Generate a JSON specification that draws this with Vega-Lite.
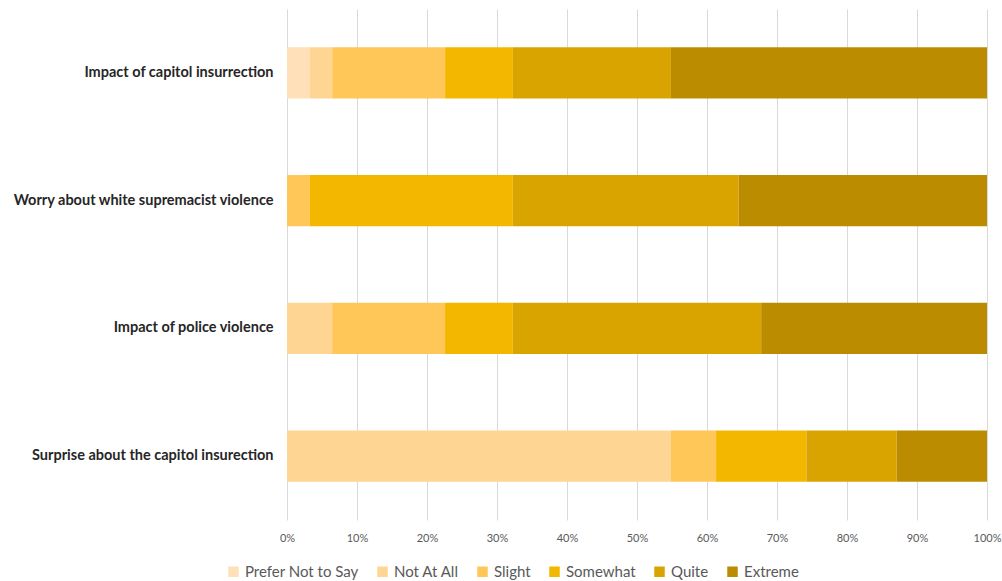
{
  "$schema": "https://vega.github.io/schema/vega-lite/v6.json",
  "width": 700,
  "height": 511,
  "autosize": {"type": "none"},
  "padding": {"left": 287, "top": 9, "right": 15, "bottom": 61},
  "background": "white",
  "config": {"view": {"stroke": null}, "font": "Lato"},
  "data": {"values": [
    {"q": "Impact of capitol insurrection", "r": "Prefer Not to Say", "o": 1, "pct": 3.23},
    {"q": "Impact of capitol insurrection", "r": "Not At All", "o": 2, "pct": 3.23},
    {"q": "Impact of capitol insurrection", "r": "Slight", "o": 3, "pct": 16.13},
    {"q": "Impact of capitol insurrection", "r": "Somewhat", "o": 4, "pct": 9.68},
    {"q": "Impact of capitol insurrection", "r": "Quite", "o": 5, "pct": 22.58},
    {"q": "Impact of capitol insurrection", "r": "Extreme", "o": 6, "pct": 45.16},
    {"q": "Worry about white supremacist violence", "r": "Slight", "o": 3, "pct": 3.23},
    {"q": "Worry about white supremacist violence", "r": "Somewhat", "o": 4, "pct": 29.03},
    {"q": "Worry about white supremacist violence", "r": "Quite", "o": 5, "pct": 32.26},
    {"q": "Worry about white supremacist violence", "r": "Extreme", "o": 6, "pct": 35.48},
    {"q": "Impact of police violence", "r": "Not At All", "o": 2, "pct": 6.45},
    {"q": "Impact of police violence", "r": "Slight", "o": 3, "pct": 16.13},
    {"q": "Impact of police violence", "r": "Somewhat", "o": 4, "pct": 9.68},
    {"q": "Impact of police violence", "r": "Quite", "o": 5, "pct": 35.48},
    {"q": "Impact of police violence", "r": "Extreme", "o": 6, "pct": 32.26},
    {"q": "Surprise about the capitol insurection", "r": "Not At All", "o": 2, "pct": 54.84},
    {"q": "Surprise about the capitol insurection", "r": "Slight", "o": 3, "pct": 6.45},
    {"q": "Surprise about the capitol insurection", "r": "Somewhat", "o": 4, "pct": 12.90},
    {"q": "Surprise about the capitol insurection", "r": "Quite", "o": 5, "pct": 12.90},
    {"q": "Surprise about the capitol insurection", "r": "Extreme", "o": 6, "pct": 12.90}
  ]},
  "mark": {"type": "bar"},
  "encoding": {
    "y": {
      "field": "q", "type": "nominal",
      "sort": ["Impact of capitol insurrection", "Worry about white supremacist violence", "Impact of police violence", "Surprise about the capitol insurection"],
      "scale": {"paddingInner": 0.6, "paddingOuter": 0.3},
      "axis": {"title": null, "domain": false, "ticks": false, "labelPadding": 14, "labelFontSize": 14.5, "labelFontWeight": "bold", "labelColor": "#262626", "labelLimit": 300}
    },
    "x": {
      "field": "pct", "type": "quantitative", "stack": "normalize",
      "scale": {"domain": [0, 1]},
      "axis": {"title": null, "format": ".0%", "values": [0,0.1,0.2,0.3,0.4,0.5,0.6,0.7,0.8,0.9,1], "domain": false, "ticks": false, "grid": true, "gridColor": "#d9d9d9", "gridWidth": 1, "labelFontSize": 11, "labelColor": "#595959", "labelPadding": 12, "labelFlush": false}
    },
    "color": {
      "field": "r", "type": "nominal",
      "scale": {
        "domain": ["Prefer Not to Say", "Not At All", "Slight", "Somewhat", "Quite", "Extreme"],
        "range": ["#FFE0B8", "#FFD593", "#FFC658", "#F3B700", "#D9A400", "#BC8C00"]
      },
      "legend": {
        "title": null, "orient": "none", "direction": "horizontal",
        "legendX": -61, "legendY": 555,
        "symbolType": "square", "symbolSize": 110, "symbolStrokeWidth": 0,
        "labelFontSize": 15, "labelColor": "#595959", "labelOffset": 4, "columnPadding": 16,
        "labelLimit": 200
      }
    },
    "order": {"field": "o", "type": "quantitative"}
  }
}
